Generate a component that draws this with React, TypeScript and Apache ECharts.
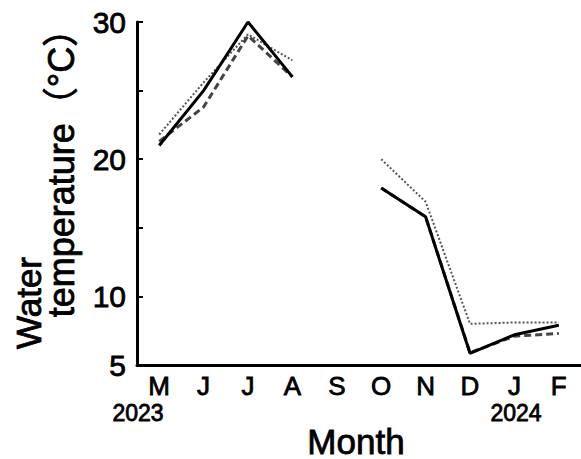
import React, { useEffect, useRef } from "react";
import * as echarts from "echarts";

const months = ["M", "J", "J", "A", "S", "O", "N", "D", "J", "F"];
const solidSeries = [21, 25, 30, 26, null, 17.9, 15.8, 5.85, 7.2, 7.9];
const dashedSeries = [21.3, 23.8, 29, 26, null, 17.9, 15.8, 5.9, 7.1, 7.3];
const dottedSeries = [21.8, 25.6, 29.1, 27.2, null, 20, 16.9, 8.0, 8.1, 8.1];
const yTickLabels = [5, 10, 20, 30];
const yearLabels = ["2023", "2024"];

const FONT = "'Liberation Sans', Arial, 'Noto Sans CJK JP', sans-serif";
const THICK = 0.8;

export default function App() {
  const ref = useRef<HTMLDivElement>(null);
  useEffect(() => {
    const chart = echarts.init(ref.current!, null, { renderer: "svg" });
    const txt = (text: string, x: number, y: number, size: number, rot = 0) => ({
      type: "text",
      x,
      y,
      rotation: rot,
      style: {
        text,
        fontSize: size,
        fontFamily: FONT,
        fill: "#000",
        stroke: "#000",
        lineWidth: THICK,
        align: "center",
        verticalAlign: "middle",
      },
    });
    chart.setOption({
      animation: false,
      backgroundColor: "#fff",
      grid: { left: 137, right: 0, top: 22, bottom: 94 },
      xAxis: {
        type: "category",
        data: months,
        boundaryGap: true,
        axisLine: { lineStyle: { color: "#000", width: 3 } },
        axisTick: { show: false },
        axisLabel: {
          color: "#000",
          fontSize: 26,
          fontFamily: FONT,
          textBorderColor: "#000",
          textBorderWidth: THICK,
          margin: 8,
          interval: 0,
        },
      },
      yAxis: {
        type: "value",
        min: 5,
        max: 30,
        interval: 5,
        splitLine: { show: false },
        axisLine: { show: true, lineStyle: { color: "#000", width: 3 } },
        axisTick: { show: true, inside: true, length: 6, lineStyle: { color: "#000", width: 2 } },
        axisLabel: {
          color: "#000",
          fontSize: 30,
          fontFamily: FONT,
          textBorderColor: "#000",
          textBorderWidth: THICK,
          margin: 11,
          formatter: (v: number) => (yTickLabels.includes(v) ? String(v) : ""),
        },
      },
      graphic: [
        txt("Water", 28, 303, 35, Math.PI / 2),
        txt("temperature（°C）", 61, 164, 36, Math.PI / 2),
        txt(yearLabels[0], 138, 413, 23),
        txt(yearLabels[1], 516, 413, 23),
        txt("Month", 356, 441, 35),
      ],
      series: [
        {
          type: "line",
          data: dottedSeries,
          showSymbol: false,
          connectNulls: false,
          lineStyle: { color: "#555", width: 2, type: [2, 2] },
          z: 1,
        },
        {
          type: "line",
          data: dashedSeries,
          showSymbol: false,
          connectNulls: false,
          lineStyle: { color: "#444", width: 3, type: [7, 4] },
          z: 2,
        },
        {
          type: "line",
          data: solidSeries,
          showSymbol: false,
          connectNulls: false,
          lineStyle: { color: "#000", width: 3 },
          z: 3,
        },
      ],
    });
    return () => chart.dispose();
  }, []);
  return <div ref={ref} style={{ width: 581, height: 459, position: "absolute", left: 0, top: 0 }} />;
}
